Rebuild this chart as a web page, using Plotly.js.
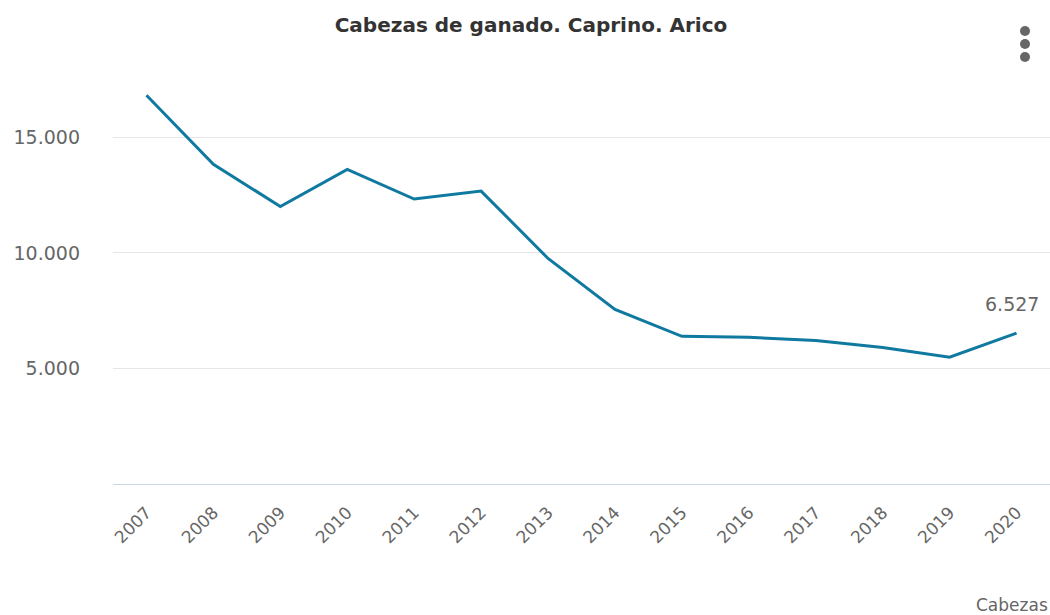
<!DOCTYPE html>
<html>
<head>
<meta charset="utf-8">
<script src="https://cdn.plot.ly/plotly-3.0.1.min.js"></script>
<style>html,body{margin:0;padding:0;background:#fff;}#chart{width:1050px;height:615px;}</style>
</head>
<body>
<div id="chart"></div>
<script>
const years = ['2007','2008','2009','2010','2011','2012','2013','2014','2015','2016','2017','2018','2019','2020'];
const cabezas = [16820, 13830, 12010, 13615, 12330, 12675, 9760, 7555, 6390, 6345, 6210, 5910, 5490, 6527];
const yTicks = [5000, 10000, 15000];
const unitLabel = 'Cabezas';
const titleText = 'Cabezas de ganado. Caprino. Arico';

function fmt(v){ return String(Math.round(v)).replace(/\B(?=(\d{3})+(?!\d))/g, '.'); }
const lastIdx = cabezas.length - 1;

const FONT = 'DejaVu Sans, Verdana, sans-serif';

const trace = {
  x: years, y: cabezas, type: 'scatter', mode: 'lines',
  line: {color: '#0f79a0', width: 3},
  cliponaxis: false, hoverinfo: 'x+y'
};

const layout = {
  width: 1050, height: 615,
  margin: {l: 113, r: 0, t: 68, b: 131},
  paper_bgcolor: '#ffffff', plot_bgcolor: '#ffffff',
  separators: ',.',
  font: {family: FONT, color: '#666666'},
  showlegend: false,
  title: {text: '<b>' + titleText + '</b>', font: {family: FONT, size: 20, color: '#333333'},
          x: 531/1050, xanchor: 'center', xref: 'container', y: 1 - 25/615, yanchor: 'middle', yref: 'container'},
  xaxis: {
    type: 'category', range: [-0.5, years.length - 0.5],
    showgrid: false, zeroline: false,
    showline: true, linecolor: '#ccd6eb', linewidth: 1,
    ticks: '', tickangle: -45, ticklabelstandoff: 11,
    tickfont: {family: FONT, size: 17, color: '#666666'}
  },
  yaxis: {
    range: [0, 18000], tickvals: yTicks, tickformat: ',d',
    showgrid: true, gridcolor: '#e6e6e6', gridwidth: 1,
    zeroline: false, showline: false, ticks: '',
    ticklabelstandoff: 32,
    tickfont: {family: FONT, size: 19, color: '#666666'}
  },
  annotations: [{
    text: unitLabel, xref: 'paper', yref: 'paper', x: 1, y: -0.29,
    xanchor: 'right', yanchor: 'middle', showarrow: false,
    font: {family: FONT, size: 17, color: '#666666'}
  }, {
    text: fmt(cabezas[lastIdx]), xref: 'x', yref: 'y', x: lastIdx, y: cabezas[lastIdx],
    xanchor: 'center', yanchor: 'middle', showarrow: false, yshift: 29, xshift: -5,
    font: {family: FONT, size: 19, color: '#666666'}
  }],
  shapes: [31, 44, 57].map(cy => ({
    type: 'circle', xref: 'paper', yref: 'paper', xsizemode: 'pixel', ysizemode: 'pixel',
    xanchor: (1025-113)/937, yanchor: 1 + (68 - cy)/416,
    x0: -5, x1: 5, y0: -5, y1: 5,
    fillcolor: '#666666', line: {width: 0}
  }))
};

Plotly.newPlot('chart', [trace], layout, {displayModeBar: false, staticPlot: true});
</script>
</body>
</html>
